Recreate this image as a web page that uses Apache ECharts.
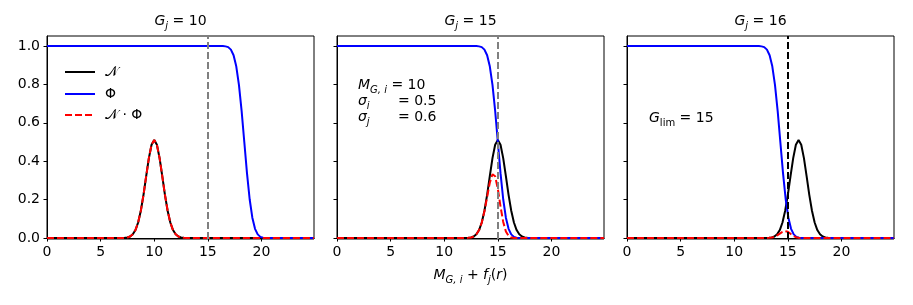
<!DOCTYPE html>
<html><head><meta charset="utf-8">
<script src="https://cdn.jsdelivr.net/npm/echarts@6/dist/echarts.min.js"></script>
<style>html,body{margin:0;padding:0;background:#fff}#c{width:913px;height:305px}</style>
</head><body><div id="c"></div>
<script>
// ---- data ----
const gjValues = [10, 15, 16];
const gLim = 15;
const annotMG = 10, annotSigI = 0.5, annotSigJ = 0.6;
const xTicks = [0, 5, 10, 15, 20];
const yTicks = [0, 0.2, 0.4, 0.6, 0.8, 1.0];

const nCurve1 = [[0,0],[7,0.0003],[7.25,0.001],[7.5,0.003],[7.75,0.0081],[8,0.0193],[8.25,0.0415],[8.5,0.081],[8.75,0.142],[9,0.225],[9.25,0.322],[9.5,0.416],[9.75,0.486],[10,0.511],[10.25,0.486],[10.5,0.416],[10.75,0.322],[11,0.225],[11.25,0.142],[11.5,0.081],[11.75,0.0415],[12,0.0193],[12.25,0.0081],[12.5,0.003],[12.75,0.001],[13,0.0003],[24.9,0]];
const phiCurve1 = [[0,1],[16.4,1],[16.65,0.998],[16.9,0.994],[17.15,0.981],[17.4,0.952],[17.65,0.894],[17.9,0.798],[18.15,0.662],[18.4,0.5],[18.65,0.338],[18.9,0.202],[19.15,0.106],[19.4,0.048],[19.65,0.019],[19.9,0.006],[20.15,0.002],[20.4,0.0004],[24.9,0]];
const prodCurve1 = [[0,0],[7,0.0003],[7.25,0.001],[7.5,0.003],[7.75,0.0081],[8,0.0193],[8.25,0.0415],[8.5,0.081],[8.75,0.142],[9,0.225],[9.25,0.322],[9.5,0.416],[9.75,0.486],[10,0.511],[10.25,0.486],[10.5,0.416],[10.75,0.322],[11,0.225],[11.25,0.142],[11.5,0.081],[11.75,0.0415],[12,0.0193],[12.25,0.0081],[12.5,0.003],[12.75,0.001],[13,0.0003],[24.9,0]];

const nCurve2 = [[0,0],[12,0.0003],[12.25,0.001],[12.5,0.003],[12.75,0.0081],[13,0.0193],[13.25,0.0415],[13.5,0.081],[13.75,0.142],[14,0.225],[14.25,0.322],[14.5,0.416],[14.75,0.486],[15,0.511],[15.25,0.486],[15.5,0.416],[15.75,0.322],[16,0.225],[16.25,0.142],[16.5,0.081],[16.75,0.0415],[17,0.0193],[17.25,0.0081],[17.5,0.003],[17.75,0.001],[18,0.0003],[24.9,0]];
const phiCurve2 = [[0,1],[13,1],[13.25,0.998],[13.5,0.994],[13.75,0.981],[14,0.952],[14.25,0.894],[14.5,0.798],[14.75,0.662],[15,0.5],[15.25,0.338],[15.5,0.202],[15.75,0.106],[16,0.048],[16.25,0.019],[16.5,0.006],[16.75,0.002],[17,0.0004],[24.9,0]];
const prodCurve2 = [[0,0],[12,0.0003],[12.25,0.001],[12.5,0.003],[12.75,0.0081],[13,0.0193],[13.25,0.0414],[13.5,0.0805],[13.75,0.139],[14,0.214],[14.25,0.288],[14.5,0.332],[14.75,0.322],[15,0.256],[15.25,0.164],[15.5,0.084],[15.75,0.034],[16,0.0108],[16.25,0.0027],[16.5,0.0005],[16.75,0],[24.9,0]];

const nCurve3 = [[0,0],[13,0.0003],[13.25,0.001],[13.5,0.003],[13.75,0.0081],[14,0.0193],[14.25,0.0415],[14.5,0.081],[14.75,0.142],[15,0.225],[15.25,0.322],[15.5,0.416],[15.75,0.486],[16,0.511],[16.25,0.486],[16.5,0.416],[16.75,0.322],[17,0.225],[17.25,0.142],[17.5,0.081],[17.75,0.0415],[18,0.0193],[18.25,0.0081],[18.5,0.003],[18.75,0.001],[19,0.0003],[24.9,0]];
const phiCurve3 = [[0,1],[12.3,1],[12.55,0.998],[12.8,0.994],[13.05,0.981],[13.3,0.952],[13.55,0.894],[13.8,0.798],[14.05,0.662],[14.3,0.5],[14.55,0.338],[14.8,0.202],[15.05,0.106],[15.3,0.048],[15.55,0.019],[15.8,0.006],[16.05,0.002],[16.3,0.0004],[24.9,0]];
const prodCurve3 = [[0,0],[13,0.0003],[13.25,0.001],[13.5,0.0027],[13.75,0.0066],[14,0.0135],[14.25,0.023],[14.5,0.032],[14.75,0.036],[15,0.033],[15.25,0.022],[15.5,0.011],[15.75,0.0045],[16,0.0014],[16.25,0.0003],[16.5,0],[24.9,0]];

// ---- presentation ----
const FONT = 'DejaVu Sans';
const FS = 14;
const nCurves = [nCurve1, nCurve2, nCurve3];
const phiCurves = [phiCurve1, phiCurve2, phiCurve3];
const prodCurves = [prodCurve1, prodCurve2, prodCurve3];
const gridLefts = [47, 337, 627];
const gridW = 267, gridTop = 36, gridH = 203;
const vlineColors = ['#808080', '#808080', '#000000'];
const DASH = [7, 3];
const LW = 2;

const rich = {
  it: {fontStyle: 'italic', fontSize: FS, fontFamily: FONT, lineHeight: 20, fill: '#000'},
  rm: {fontSize: FS, fontFamily: FONT, lineHeight: 20, fill: '#000'},
  sub: {fontStyle: 'italic', fontSize: 10, fontFamily: FONT, lineHeight: 10, verticalAlign: 'bottom', fill: '#000'},
  subrm: {fontSize: 10, fontFamily: FONT, lineHeight: 10, verticalAlign: 'bottom', fill: '#000'},
  cal: {fontSize: FS, fontFamily: FONT, lineHeight: 20, fill: '#000'}
};

const grids = [], xAxes = [], yAxes = [], series = [], graphic = [];
for (let i = 0; i < 3; i++) {
  grids.push({left: gridLefts[i], top: gridTop, width: gridW, height: gridH, show: true,
    borderColor: '#000', borderWidth: 1, backgroundColor: '#fff'});
  xAxes.push({type: 'value', gridIndex: i, min: 0, max: 24.9,
    axisLine: {show: true, lineStyle: {color: '#000', width: 1}},
    axisTick: {show: true, length: 3.5, customValues: xTicks, lineStyle: {color: '#000', width: 1}},
    axisLabel: {customValues: xTicks, color: '#000', fontSize: FS, fontFamily: FONT, margin: 6, formatter: v => String(v)},
    splitLine: {show: false}});
  yAxes.push({type: 'value', gridIndex: i, min: -0.005, max: 1.052,
    axisLine: {show: true, lineStyle: {color: '#000', width: 1}},
    axisTick: {show: true, length: 3.5, customValues: yTicks, lineStyle: {color: '#000', width: 1}},
    axisLabel: {show: i === 0, customValues: yTicks, color: '#000', fontSize: FS, fontFamily: FONT, margin: 7, formatter: v => v.toFixed(1)},
    splitLine: {show: false}});
  const common = {type: 'line', xAxisIndex: i, yAxisIndex: i, symbol: 'none', showSymbol: false, animation: false, silent: true};
  series.push(Object.assign({}, common, {name: 'N' + i, data: nCurves[i], lineStyle: {color: '#000', width: LW},
    markLine: {symbol: 'none', silent: true, animation: false, label: {show: false},
      lineStyle: {color: vlineColors[i], width: LW, type: DASH}, data: [{xAxis: gLim}]}}));
  series.push(Object.assign({}, common, {name: 'Phi' + i, data: phiCurves[i], lineStyle: {color: '#0000ff', width: LW}}));
  series.push(Object.assign({}, common, {name: 'NPhi' + i, data: prodCurves[i], lineStyle: {color: '#ff0000', width: LW, type: DASH}}));

  graphic.push({type: 'text', x: gridLefts[i] + gridW / 2, y: 21, style: {
    text: '{it|G}{sub|j}{rm| = ' + gjValues[i] + '}', rich: rich, align: 'center', verticalAlign: 'middle'}});
}

// legend (panel 1)
const legendRows = [
  {y: 72, color: '#000', dash: null, text: '{cal|𝒩}'},
  {y: 94, color: '#0000ff', dash: null, text: '{rm|Φ}'},
  {y: 115, color: '#ff0000', dash: DASH, text: '{cal|𝒩}{rm| · Φ}'}
];
legendRows.forEach(r => {
  graphic.push({type: 'line', shape: {x1: 65, y1: r.y, x2: 95, y2: r.y},
    style: {stroke: r.color, lineWidth: LW, lineDash: r.dash || null}});
  graphic.push({type: 'text', x: 105, y: r.y, style: {text: r.text, rich: rich, align: 'left', verticalAlign: 'middle'}});
});

// annotations panel 2
graphic.push({type: 'text', x: 358, y: 85, style: {text: '{it|M}{sub|G, i}{rm| = ' + annotMG + '}', rich: rich, align: 'left', verticalAlign: 'middle'}});
graphic.push({type: 'text', x: 358, y: 101, style: {text: '{it|σ}{sub|i}', rich: rich, align: 'left', verticalAlign: 'middle'}});
graphic.push({type: 'text', x: 398, y: 101, style: {text: '{rm|= ' + annotSigI + '}', rich: rich, align: 'left', verticalAlign: 'middle'}});
graphic.push({type: 'text', x: 358, y: 117, style: {text: '{it|σ}{sub|j}', rich: rich, align: 'left', verticalAlign: 'middle'}});
graphic.push({type: 'text', x: 398, y: 117, style: {text: '{rm|= ' + annotSigJ + '}', rich: rich, align: 'left', verticalAlign: 'middle'}});
// annotation panel 3
graphic.push({type: 'text', x: 649, y: 118, style: {text: '{it|G}{subrm|lim}{rm| = ' + gLim + '}', rich: rich, align: 'left', verticalAlign: 'middle'}});
// x axis label
graphic.push({type: 'text', x: gridLefts[1] + gridW / 2, y: 275, style: {
  text: '{it|M}{sub|G, i}{rm| + }{it|f}{sub|j}{rm|(}{it|r}{rm|)}', rich: rich, align: 'center', verticalAlign: 'middle'}});

const chart = echarts.init(document.getElementById('c'), null, {renderer: 'canvas'});
chart.setOption({animation: false, backgroundColor: '#fff', grid: grids, xAxis: xAxes, yAxis: yAxes, series: series, graphic: graphic});
</script></body></html>
